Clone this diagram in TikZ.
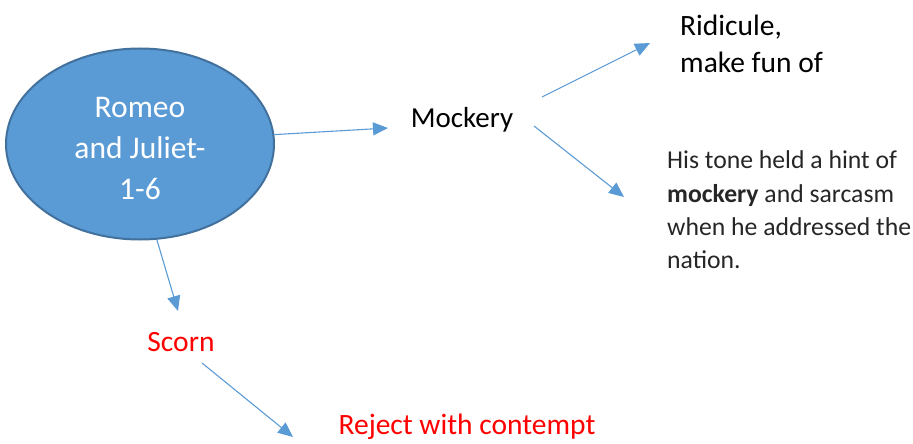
\documentclass[tikz,border=0pt]{standalone}
\usepackage{fontspec}
\setmainfont{Carlito}
\usetikzlibrary{arrows.meta,shapes.geometric}
\definecolor{blu}{HTML}{5B9BD5}
\definecolor{bord}{HTML}{41719C}
\definecolor{txt}{HTML}{000000}
\definecolor{redt}{HTML}{FF0000}
\begin{document}
\begin{tikzpicture}[x=1pt,y=-1pt,
  arr/.style={draw=blu, line width=1.1pt, -{Triangle[length=15pt,width=13pt]}},
  lbl/.style={inner sep=0pt, font=\fontsize{29.5}{37}\selectfont},
  para/.style={inner sep=0pt, align=left, font=\fontsize{25.7}{33.3}\selectfont, text=txt!85}]
\useasboundingbox (0,0) rectangle (913,444);
\node[ellipse, draw=bord, line width=2pt, fill=blu, minimum width=268pt, minimum height=191pt, inner sep=0pt] (rj) at (140,144) {};
\node[inner sep=0pt, text=white, align=center, font=\fontsize{31.5}{41}\selectfont] (rjt) at (140,149) {Romeo\\and Juliet-\\1-6};
\node[lbl, font=\fontsize{29}{37}\selectfont] (mock) at (462,120) {Mockery};
\node[lbl, anchor=west, align=left] (rid) at (680,44) {Ridicule,\\make fun of};
\node[para, anchor=west] (ex) at (667,210) {His tone held a hint of\\\textbf{mockery} and sarcasm\\when he addressed the\\nation.};
\node[lbl, text=redt] (scorn) at (181,342) {Scorn};
\node[lbl, text=redt] (rej) at (467,427) {Reject with contempt};
\coordinate (m1) at (388,128);
\coordinate (ms1) at (542,97);
\coordinate (me1) at (650,43);
\coordinate (ms2) at (534,126);
\coordinate (me2) at (624,197);
\coordinate (s1) at (178,311);
\coordinate (ss) at (202,363);
\coordinate (se) at (293,437);
\draw[arr] (rj.4) -- (m1);
\draw[arr] (ms1) -- (me1);
\draw[arr] (ms2) -- (me2);
\draw[arr] (rj.-80) -- (s1);
\draw[arr] (ss) -- (se);
\end{tikzpicture}
\end{document}
